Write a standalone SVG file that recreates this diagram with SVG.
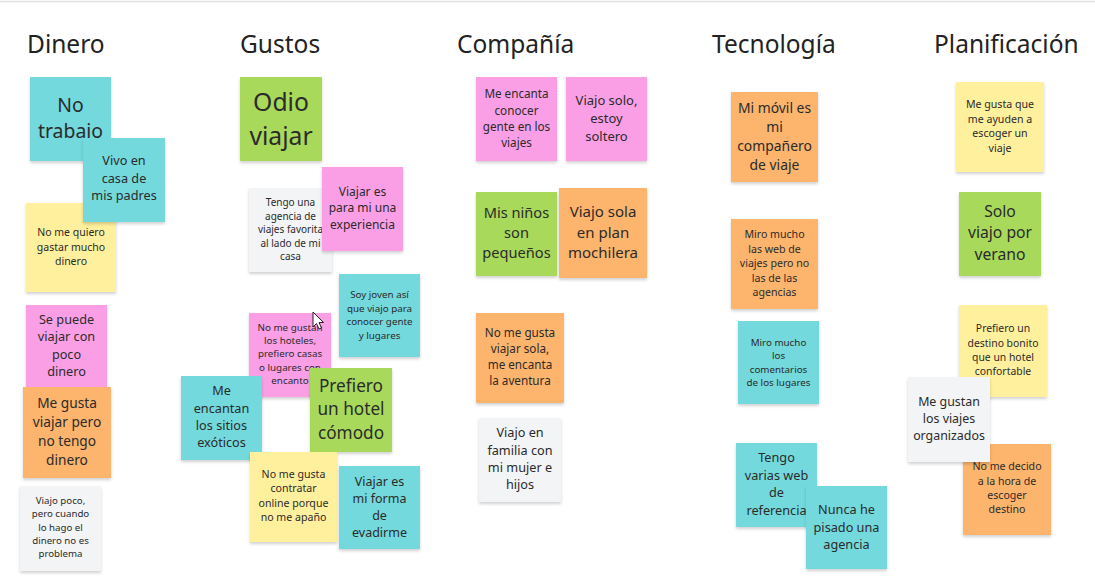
<svg xmlns="http://www.w3.org/2000/svg" width="1095" height="581" viewBox="0 0 1095 581">
<defs>
<filter id="sh" x="-10%" y="-10%" width="120%" height="130%">
<feDropShadow dx="0" dy="2" stdDeviation="1.6" flood-color="#000" flood-opacity="0.18"/>
</filter>
</defs>
<style>
.h{font-family:"Noto Sans","Open Sans",sans-serif;font-size:24.5px;fill:#222}
.n rect{filter:url(#sh)}
.n text{font-family:"Noto Sans","Open Sans",sans-serif;fill:#2b2b2b;text-anchor:middle}
.cy rect{fill:#73d9dc}
.gr rect{fill:#a8d95a}
.pk rect{fill:#fa9fe6}
.or rect{fill:#fdb46d}
.ye rect{fill:#fff09d}
.wh rect{fill:#f3f4f6}
</style>
<rect width="1095" height="581" fill="#fff"/>
<line x1="0" y1="1.5" x2="1095" y2="1.5" stroke="#e2e2e2" stroke-width="1.5"/>
<g id="headings">
<text class="h" x="27" y="53">Dinero</text>
<text class="h" x="240" y="53">Gustos</text>
<text class="h" x="457" y="53">Compañía</text>
<text class="h" x="712" y="53">Tecnología</text>
<text class="h" x="934" y="53">Planificación</text>
</g>
<g id="connectors"></g>

<g id="n-notrabajo" class="n cy"><rect x="30" y="77" width="81" height="84"/>
<text font-size="19.4"><tspan x="70.5" y="112">No</tspan><tspan x="70.5" y="138">trabajo</tspan></text></g>
<g id="n-noquiero" class="n ye"><rect x="26" y="203" width="90" height="89"/>
<text font-size="10.5"><tspan x="71" y="235.5">No me quiero</tspan><tspan x="71" y="250.5">gastar mucho</tspan><tspan x="71" y="264.5">dinero</tspan></text></g>
<g id="n-vivo" class="n cy"><rect x="83" y="138" width="82" height="84"/>
<text font-size="12.7"><tspan x="124" y="165">Vivo en</tspan><tspan x="124" y="183">casa de</tspan><tspan x="124" y="200">mis padres</tspan></text></g>
<g id="n-sepuede" class="n pk"><rect x="26" y="305" width="81" height="82"/>
<text font-size="12.7"><tspan x="66.5" y="324">Se puede</tspan><tspan x="66.5" y="341">viajar con</tspan><tspan x="66.5" y="359">poco</tspan><tspan x="66.5" y="376">dinero</tspan></text></g>
<g id="n-megustaviajar" class="n or"><rect x="23" y="387" width="88" height="91"/>
<text font-size="13.7"><tspan x="67" y="408">Me gusta</tspan><tspan x="67" y="427">viajar pero</tspan><tspan x="67" y="446">no tengo</tspan><tspan x="67" y="465">dinero</tspan></text></g>
<g id="n-viajopoco" class="n wh"><rect x="20" y="486" width="81" height="85"/>
<text font-size="9.7"><tspan x="60.5" y="504">Viajo poco,</tspan><tspan x="60.5" y="517">pero cuando</tspan><tspan x="60.5" y="531">lo hago el</tspan><tspan x="60.5" y="544">dinero no es</tspan><tspan x="60.5" y="557">problema</tspan></text></g>

<g id="n-odio" class="n gr"><rect x="240" y="77" width="82" height="84"/>
<text font-size="24.7"><tspan x="281" y="111">Odio</tspan><tspan x="281" y="145">viajar</tspan></text></g>
<g id="n-tengoagencia" class="n wh"><rect x="249" y="188" width="83" height="84"/>
<text font-size="10"><tspan x="290.5" y="205.5">Tengo una</tspan><tspan x="290.5" y="219.5">agencia de</tspan><tspan x="290.5" y="232.5">viajes favorita</tspan><tspan x="290.5" y="246.5">al lado de mi</tspan><tspan x="290.5" y="259.5">casa</tspan></text></g>
<g id="n-viajarexp" class="n pk"><rect x="322" y="167" width="81" height="84"/>
<text font-size="12"><tspan x="362.5" y="196">Viajar es</tspan><tspan x="362.5" y="212">para mi una</tspan><tspan x="362.5" y="229">experiencia</tspan></text></g>
<g id="n-soyjoven" class="n cy"><rect x="339" y="274" width="81" height="83"/>
<text font-size="9.8"><tspan x="379.5" y="298">Soy joven así</tspan><tspan x="379.5" y="311.5">que viajo para</tspan><tspan x="379.5" y="325">conocer gente</tspan><tspan x="379.5" y="338.5">y lugares</tspan></text></g>
<g id="n-nomegustan" class="n pk"><rect x="249" y="313" width="82" height="84"/>
<text font-size="9.8"><tspan x="290" y="330.5">No me gustan</tspan><tspan x="290" y="343.5">los hoteles,</tspan><tspan x="290" y="356.5">prefiero casas</tspan><tspan x="290" y="370.5">o lugares con</tspan><tspan x="290" y="384">encanto</tspan></text></g>
<g id="n-exoticos" class="n cy"><rect x="181" y="376" width="81" height="84"/>
<text font-size="12.7"><tspan x="221.5" y="395">Me</tspan><tspan x="221.5" y="413">encantan</tspan><tspan x="221.5" y="430">los sitios</tspan><tspan x="221.5" y="447">exóticos</tspan></text></g>
<g id="n-hotelcomodo" class="n gr"><rect x="310" y="368" width="82" height="84"/>
<text font-size="17.2"><tspan x="351" y="391.5">Prefiero</tspan><tspan x="351" y="414.5">un hotel</tspan><tspan x="351" y="438.5">cómodo</tspan></text></g>
<g id="n-contratar" class="n ye"><rect x="250" y="452" width="87" height="90"/>
<text font-size="10.6"><tspan x="293.5" y="477.5">No me gusta</tspan><tspan x="293.5" y="491.5">contratar</tspan><tspan x="293.5" y="506.5">online porque</tspan><tspan x="293.5" y="520.5">no me apaño</tspan></text></g>
<g id="n-evadirme" class="n cy"><rect x="339" y="466" width="81" height="83"/>
<text font-size="12.5"><tspan x="379.5" y="486">Viajar es</tspan><tspan x="379.5" y="503">mi forma</tspan><tspan x="379.5" y="520">de</tspan><tspan x="379.5" y="537">evadirme</tspan></text></g>

<g id="n-conocergente" class="n pk"><rect x="476" y="77" width="81" height="84"/>
<text font-size="11.7"><tspan x="516.5" y="98">Me encanta</tspan><tspan x="516.5" y="115">conocer</tspan><tspan x="516.5" y="131">gente en los</tspan><tspan x="516.5" y="147">viajes</tspan></text></g>
<g id="n-viajosolo" class="n pk"><rect x="566" y="77" width="81" height="84"/>
<text font-size="13"><tspan x="606.5" y="105">Viajo solo,</tspan><tspan x="606.5" y="123">estoy</tspan><tspan x="606.5" y="141">soltero</tspan></text></g>
<g id="n-ninos" class="n gr"><rect x="476" y="192" width="81" height="84"/>
<text font-size="14.6"><tspan x="516.5" y="218">Mis niños</tspan><tspan x="516.5" y="238">son</tspan><tspan x="516.5" y="258">pequeños</tspan></text></g>
<g id="n-mochilera" class="n or"><rect x="559" y="188" width="88" height="90"/>
<text font-size="15"><tspan x="603" y="217">Viajo sola</tspan><tspan x="603" y="238">en plan</tspan><tspan x="603" y="258">mochilera</tspan></text></g>
<g id="n-aventura" class="n or"><rect x="476" y="313" width="88" height="90"/>
<text font-size="11.7"><tspan x="520" y="337">No me gusta</tspan><tspan x="520" y="353">viajar sola,</tspan><tspan x="520" y="369">me encanta</tspan><tspan x="520" y="385">la aventura</tspan></text></g>
<g id="n-familia" class="n wh"><rect x="479" y="418" width="82" height="84"/>
<text font-size="12.7"><tspan x="520" y="437">Viajo en</tspan><tspan x="520" y="455">familia con</tspan><tspan x="520" y="472">mi mujer e</tspan><tspan x="520" y="489">hijos</tspan></text></g>

<g id="n-movil" class="n or"><rect x="731" y="92" width="87" height="90"/>
<text font-size="13.9"><tspan x="774.5" y="112.5">Mi móvil es</tspan><tspan x="774.5" y="131.5">mi</tspan><tspan x="774.5" y="150.5">compañero</tspan><tspan x="774.5" y="169.5">de viaje</tspan></text></g>
<g id="n-miroweb" class="n or"><rect x="731" y="219" width="87" height="90"/>
<text font-size="10.6"><tspan x="774.5" y="237.5">Miro mucho</tspan><tspan x="774.5" y="252.5">las web de</tspan><tspan x="774.5" y="266.5">viajes pero no</tspan><tspan x="774.5" y="281.5">las de las</tspan><tspan x="774.5" y="295.5">agencias</tspan></text></g>
<g id="n-comentarios" class="n cy"><rect x="738" y="321" width="81" height="83"/>
<text font-size="9.8"><tspan x="778.5" y="345.5">Miro mucho</tspan><tspan x="778.5" y="358.5">los</tspan><tspan x="778.5" y="372.5">comentarios</tspan><tspan x="778.5" y="385.5">de los lugares</tspan></text></g>
<g id="n-variasweb" class="n cy"><rect x="736" y="443" width="81" height="84"/>
<text font-size="12.7"><tspan x="776.5" y="462">Tengo</tspan><tspan x="776.5" y="480">varias web</tspan><tspan x="776.5" y="497">de</tspan><tspan x="776.5" y="515">referencia</tspan></text></g>
<g id="n-nunca" class="n cy"><rect x="806" y="486" width="81" height="83"/>
<text font-size="12.7"><tspan x="846.5" y="514">Nunca he</tspan><tspan x="846.5" y="532">pisado una</tspan><tspan x="846.5" y="549">agencia</tspan></text></g>

<g id="n-ayuden" class="n ye"><rect x="956" y="82" width="88" height="90"/>
<text font-size="10.6"><tspan x="1000" y="107.5">Me gusta que</tspan><tspan x="1000" y="122.5">me ayuden a</tspan><tspan x="1000" y="136.5">escoger un</tspan><tspan x="1000" y="151.5">viaje</tspan></text></g>
<g id="n-verano" class="n gr"><rect x="959" y="192" width="82" height="84"/>
<text font-size="15.7"><tspan x="1000" y="217">Solo</tspan><tspan x="1000" y="238">viajo por</tspan><tspan x="1000" y="260">verano</tspan></text></g>
<g id="n-destino" class="n ye"><rect x="959" y="305" width="88" height="92"/>
<text font-size="10.4"><tspan x="1003" y="332">Prefiero un</tspan><tspan x="1003" y="347">destino bonito</tspan><tspan x="1003" y="361">que un hotel</tspan><tspan x="1003" y="375">confortable</tspan></text></g>
<g id="n-nodecido" class="n or"><rect x="963" y="444" width="88" height="91"/>
<text font-size="10.6"><tspan x="1007" y="469.5">No me decido</tspan><tspan x="1007" y="484.5">a la hora de</tspan><tspan x="1007" y="498.5">escoger</tspan><tspan x="1007" y="512.5">destino</tspan></text></g>
<g id="n-organizados" class="n wh"><rect x="908" y="377" width="82" height="85"/>
<text font-size="12.4"><tspan x="949" y="406">Me gustan</tspan><tspan x="949" y="423">los viajes</tspan><tspan x="949" y="440">organizados</tspan></text></g>

<g id="cursor"><polygon points="313,312 313,327 316.5,323.5 319,329 321.5,328 319,322.5 323.5,322.5" fill="#fff" stroke="#222" stroke-width="1" stroke-linejoin="round"/></g>
</svg>
